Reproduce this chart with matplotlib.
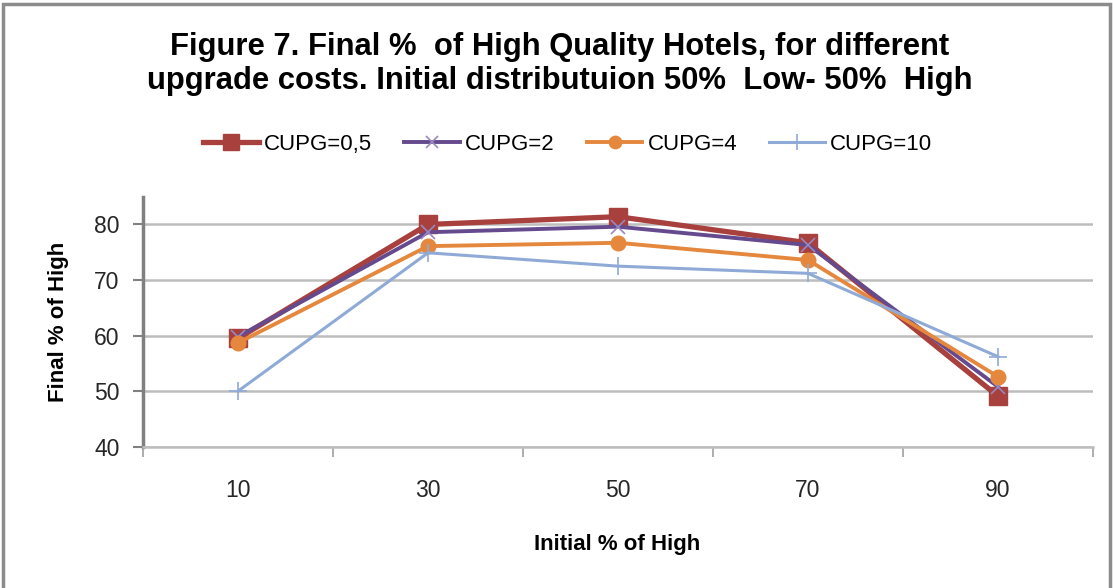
import matplotlib.pyplot as plt
from matplotlib.patches import Rectangle

# Initial share of high-quality hotels (categories) and final share per upgrade cost
categories = ['10', '30', '50', '70', '90']
series_names = ['CUPG=0,5', 'CUPG=2', 'CUPG=4', 'CUPG=10']
cupg_05 = [59.5, 80.0, 81.4, 76.7, 49.1]
cupg_2 = [59.8, 78.6, 79.6, 76.3, 50.8]
cupg_4 = [58.7, 76.1, 76.7, 73.6, 52.6]
cupg_10 = [50.0, 74.9, 72.5, 71.2, 56.2]
y_ticks = [40, 50, 60, 70, 80]

plt.rcParams['font.family'] = ['Liberation Sans', 'DejaVu Sans']

fig = plt.figure(figsize=(11.13, 5.88), dpi=100)
ax = fig.add_axes([0.1285, 0.2403, 0.8535, 0.4252])

styles = [
    dict(color='#A8403D', lw=3.8, marker='s', ms=13.5, mec='#A8403D'),
    dict(color='#654A8E', lw=2.8, marker='x', ms=10, mew=1.2, mec='#9A88C0'),
    dict(color='#E5883E', lw=2.8, marker='o', ms=10.5, mec='#E5883E'),
    dict(color='#8FAAD6', lw=2.2, marker='+', ms=13, mew=1.2),
]
x = list(range(len(categories)))
for name, vals, st in zip(series_names, [cupg_05, cupg_2, cupg_4, cupg_10], styles):
    ax.plot(x, vals, label=name, solid_joinstyle='miter', **st)

ax.set_xlim(-0.5, len(categories) - 0.5)
ax.set_ylim(40, 85)
ax.set_yticks(y_ticks)
ax.set_xticks(x)
ax.set_xticklabels(categories)
ax.tick_params(axis='x', length=0, pad=23, labelsize=16.5, labelcolor='#262626')
ax.tick_params(axis='y', length=7, width=1.5, color='#808080', pad=10,
               labelsize=16.5, labelcolor='#262626')
# category separators on the x axis
ax.set_xticks([i - 0.5 for i in range(len(categories) + 1)], minor=True)
ax.tick_params(axis='x', which='minor', length=7, width=1.2, color='#a0a0a0')

ax.grid(axis='y', color='#bdbdbd', lw=1.8)
ax.set_axisbelow(True)
for side in ['top', 'right']:
    ax.spines[side].set_visible(False)
ax.spines['left'].set_color('#808080')
ax.spines['left'].set_linewidth(2.5)
ax.spines['bottom'].set_color('#bdbdbd')
ax.spines['bottom'].set_linewidth(1.8)

ax.set_ylabel('Final % of High', fontsize=16, fontweight='bold')
ax.yaxis.set_label_coords(-0.078, 0.5)
ax.set_xlabel('Initial % of High', fontsize=16, fontweight='bold')
ax.xaxis.set_label_coords(0.499, -0.348)

title_lines = ['Figure 7. Final %  of High Quality Hotels, for different',
               'upgrade costs. Initial distributuion 50%  Low- 50%  High']
for line, y in zip(title_lines, [0.9065, 0.848]):
    fig.text(0.503, y, line, ha='center', va='baseline', fontsize=22.3,
             fontweight='bold')

fig.legend(loc='center', bbox_to_anchor=(0.51, 0.755), ncol=4, frameon=False,
           fontsize=16, handlelength=2.5, columnspacing=1.45, handletextpad=0.23,
           markerscale=0.85)

# outer chart frame
fig.patches.append(Rectangle((0.003, -0.01), 0.994, 1.004, transform=fig.transFigure,
                             fill=False, ec='#8c8c8c', lw=2.5))

fig.savefig('out.png', dpi=100)
